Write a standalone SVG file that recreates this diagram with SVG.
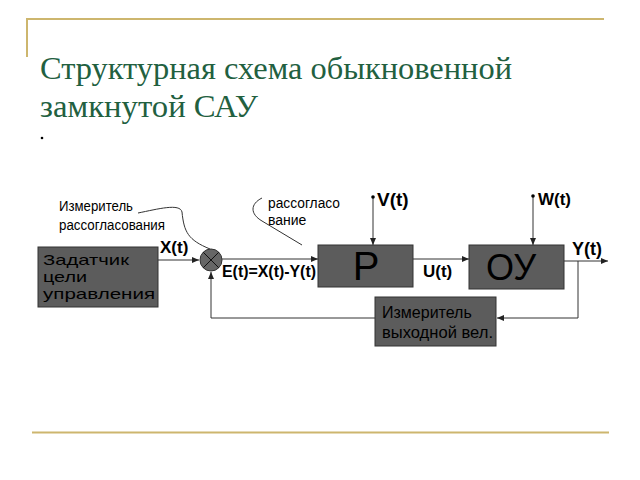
<svg xmlns="http://www.w3.org/2000/svg" width="640" height="480" viewBox="0 0 640 480">
<defs>
<style>
.title{font-family:"Liberation Serif","DejaVu Serif",serif;font-size:31px;fill:#22603f}
.lbl{font-family:"Liberation Sans",Arial,sans-serif;font-weight:bold;fill:#000}
.note{font-family:"Liberation Sans",Arial,sans-serif;font-size:14px;fill:#000}
.box{fill:#5c5c5c;stroke:#333;stroke-width:1}
.btxt{font-family:"Liberation Sans",Arial,sans-serif;fill:#000}
.ln{fill:none;stroke:#333;stroke-width:1}
.deco{fill:none;stroke:#cdb66e;stroke-width:2}
</style>
<marker id="ah" markerWidth="8" markerHeight="6" refX="7" refY="3" orient="auto" markerUnits="userSpaceOnUse">
<path d="M0,0 L7,3 L0,6 Z" fill="#222"/>
</marker>
</defs>
<rect width="640" height="480" fill="#fff"/>
<path class="deco" d="M27,57 L27,19 L604,19"/>
<path class="deco" d="M32,432.5 L609,432.5"/>
<text class="title" x="40" y="79" textLength="472" lengthAdjust="spacingAndGlyphs">Структурная схема обыкновенной</text>
<text class="title" x="40" y="117" textLength="218" lengthAdjust="spacingAndGlyphs">замкнутой САУ</text>
<circle cx="42" cy="138" r="1.3" fill="#000"/>

<g id="connectors">
<path class="ln" d="M158,260 L199,260" marker-end="url(#ah)"/>
<path class="ln" d="M222,259 L318,259" marker-end="url(#ah)"/>
<path class="ln" d="M373,197 L373,245" marker-end="url(#ah)"/>
<path class="ln" d="M413,259 L469,259" marker-end="url(#ah)"/>
<path class="ln" d="M533,196 L533,245" marker-end="url(#ah)"/>
<path class="ln" d="M564,261 L608,261" marker-end="url(#ah)"/>
<path class="ln" d="M578,261 L578,318 L497,318" marker-end="url(#ah)"/>
<path class="ln" d="M375,318 L211,318 L211,272" marker-end="url(#ah)"/>
<path class="ln" d="M138,213 C158,209 180,203 182,212 C184,232 188,240 210,249"/>
<path class="ln" d="M262,198 C250,204 250,214 262,221 L302,245"/>
<circle cx="373" cy="197" r="1.8" fill="#000"/>
<circle cx="533" cy="196" r="1.8" fill="#000"/>
</g>

<g id="zadatchik">
<rect class="box" x="38" y="247" width="120" height="60"/>
<text class="btxt" font-size="15" x="43" y="265" textLength="86" lengthAdjust="spacingAndGlyphs">Задатчик</text>
<text class="btxt" font-size="15" x="43" y="282" textLength="44" lengthAdjust="spacingAndGlyphs">цели</text>
<text class="btxt" font-size="15" x="43" y="299" textLength="112" lengthAdjust="spacingAndGlyphs">управления</text>
</g>

<g id="sum">
<circle cx="211" cy="260" r="11" fill="#666" stroke="#333" stroke-width="1"/>
<path d="M203.2,252.2 L218.8,267.8 M218.8,252.2 L203.2,267.8" stroke="#111" stroke-width="1"/>
</g>

<g id="regulator">
<rect class="box" x="318" y="245" width="95" height="42"/>
<text class="btxt" font-size="40" x="366" y="280" text-anchor="middle">Р</text>
</g>

<g id="object">
<rect class="box" x="469" y="245" width="95" height="44"/>
<text class="btxt" font-size="36" x="511" y="280" text-anchor="middle">ОУ</text>
</g>

<g id="meter">
<rect class="box" x="375" y="297" width="121" height="49"/>
<text class="btxt" font-size="16" x="382" y="318">Измеритель</text>
<text class="btxt" font-size="16" x="382" y="338" textLength="111" lengthAdjust="spacingAndGlyphs">выходной вел.</text>
</g>

<g id="labels">
<text class="note" x="59" y="211" textLength="74" lengthAdjust="spacingAndGlyphs">Измеритель</text>
<text class="note" x="59" y="230" textLength="106" lengthAdjust="spacingAndGlyphs">рассогласования</text>
<text class="note" x="268" y="208" textLength="72" lengthAdjust="spacingAndGlyphs">рассогласо</text>
<text class="note" x="268" y="225">вание</text>
<text class="lbl" font-size="17" x="160" y="253">X(t)</text>
<text class="lbl" font-size="16" x="222" y="277" textLength="94" lengthAdjust="spacingAndGlyphs">E(t)=X(t)-Y(t)</text>
<text class="lbl" font-size="19" x="377" y="206">V(t)</text>
<text class="lbl" font-size="17" x="538" y="205">W(t)</text>
<text class="lbl" font-size="17" x="423" y="277">U(t)</text>
<text class="lbl" font-size="18" x="572" y="255">Y(t)</text>
</g>
</svg>
